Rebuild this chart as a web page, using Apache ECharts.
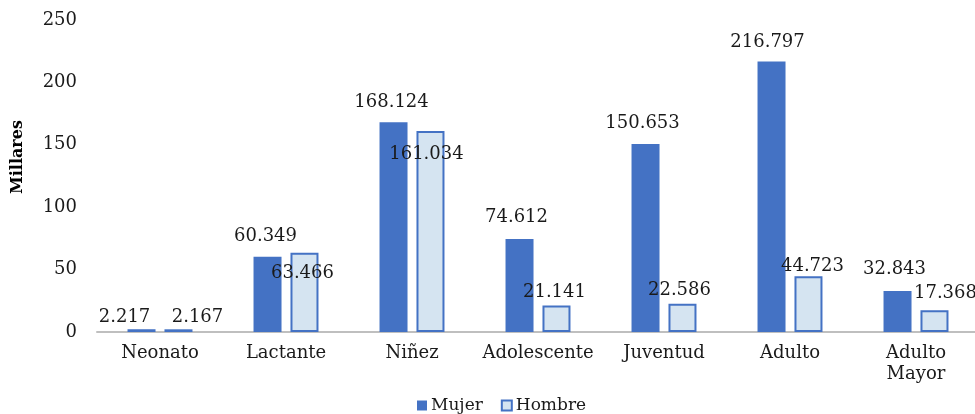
<!DOCTYPE html>
<html>
<head>
<meta charset="utf-8">
<script src="https://cdn.jsdelivr.net/npm/echarts@6/dist/echarts.min.js"></script>
<style>
  html, body { margin: 0; padding: 0; background: #fff; }
  #chart { width: 975px; height: 414px; }
</style>
</head>
<body>
<div id="chart"></div>
<script>
// grupos de edad
var categorias = ['Neonato', 'Lactante', 'Niñez', 'Adolescente', 'Juventud', 'Adulto', 'Adulto\nMayor'];
// valores en millares
var mujer = [2.217, 60.349, 168.124, 74.612, 150.653, 216.797, 32.843];
var hombre = [2.167, 63.466, 161.034, 21.141, 22.586, 44.723, 17.368];
var yTicks = [0, 50, 100, 150, 200, 250];

// ajustes manuales de las etiquetas (como en el original)
var desplMujer = [[-17, -2], [-2, -10], [-2, -10], [-3, -12], [-3, -11], [-4, -9], [-3, -12]];
var desplHombre = [[19, -2], [-2, 31], [-4, 33], [-2, -3], [-3, -3], [4, 0], [11, -7]];

var fuente = 'DejaVu Serif';

function conEtiquetas(valores, despl) {
  var out = [];
  for (var i = 0; i < valores.length; i++) {
    out.push({ value: valores[i], label: { offset: despl[i] } });
  }
  return out;
}

var etiqueta = {
  show: true,
  position: 'top',
  distance: 0,
  lineHeight: 20,
  color: '#1a1a1a',
  fontFamily: fuente,
  fontSize: 18,
  formatter: function (p) { return p.value.toFixed(3); }
};

var option = {
  animation: false,
  textStyle: { fontFamily: fuente },
  grid: { left: 97, right: -4, top: 20, bottom: 82, outerBoundsMode: 'none', containLabel: false },
  legend: {
    data: ['Mujer', 'Hombre'],
    left: 412,
    top: 392,
    icon: 'rect',
    itemWidth: 10,
    itemHeight: 10,
    itemGap: 18,
    textStyle: { fontFamily: fuente, fontSize: 17, color: '#1a1a1a', padding: [0, 0, 0, -1] }
  },
  xAxis: {
    type: 'category',
    data: categorias,
    axisTick: { show: false },
    axisLine: { lineStyle: { color: '#BFBFBF', width: 2 } },
    axisLabel: { color: '#1a1a1a', fontFamily: fuente, fontSize: 18, lineHeight: 21, margin: 11, interval: 0 }
  },
  yAxis: {
    type: 'value',
    min: yTicks[0],
    max: yTicks[yTicks.length - 1],
    interval: 50,
    name: 'Millares',
    nameLocation: 'middle',
    nameGap: 71,
    nameTextStyle: { fontFamily: fuente, fontSize: 16, fontWeight: 'bold', color: '#000', padding: [0, 0, 0, 38] },
    axisLine: { show: false },
    axisTick: { show: false },
    splitLine: { show: false },
    axisLabel: { color: '#1a1a1a', fontFamily: fuente, fontSize: 18, margin: 20 }
  },
  series: [
    {
      name: 'Mujer',
      type: 'bar',
      barWidth: 28,
      barGap: '32%',
      itemStyle: { color: '#4472C4' },
      label: etiqueta,
      data: conEtiquetas(mujer, desplMujer)
    },
    {
      name: 'Hombre',
      type: 'bar',
      barWidth: 28,
      itemStyle: { color: '#D5E4F1', borderColor: '#4472C4', borderWidth: 2 },
      label: etiqueta,
      data: conEtiquetas(hombre, desplHombre)
    }
  ]
};

var myChart = echarts.init(document.getElementById('chart'));
myChart.setOption(option);
</script>
</body>
</html>
